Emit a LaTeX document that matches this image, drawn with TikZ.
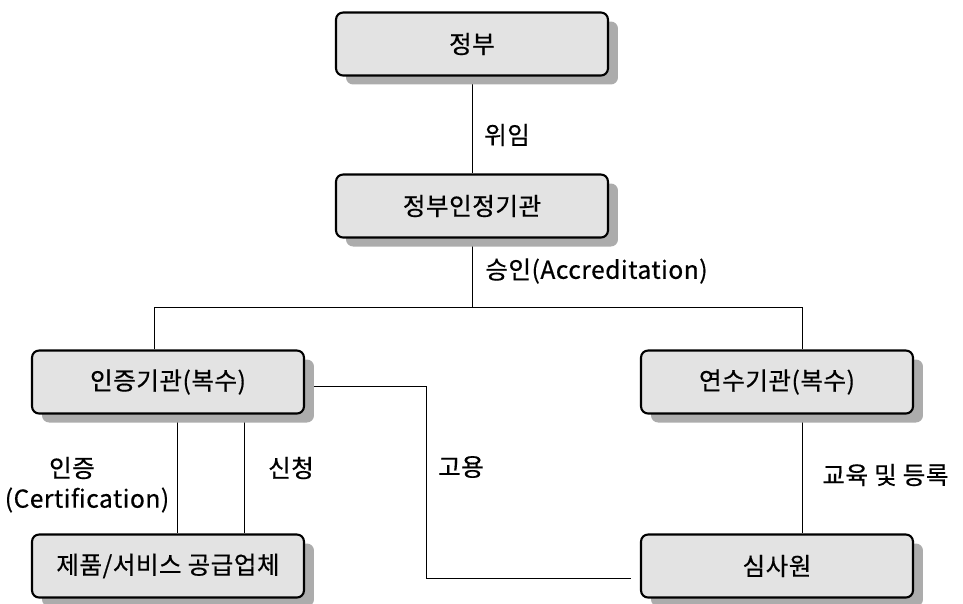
\documentclass[tikz,border=0pt]{standalone}
\usepackage{fontspec}
\setmainfont{Noto Sans CJK KR}[LetterSpace=2,FakeBold=0.5]
\usetikzlibrary{shadows,backgrounds}
\begin{document}
\begin{tikzpicture}[x=0.02cm,y=-0.02cm,
    org/.style={draw,line width=1.2pt,rounded corners=4pt,fill=gray!22,
        minimum width=5.44cm,minimum height=1.26cm,font=\fontsize{14}{16}\selectfont,
        drop shadow={shadow xshift=0.2cm,shadow yshift=-0.18cm,fill=gray!65,opacity=1}},
    lbl/.style={font=\fontsize{14}{16}\selectfont,inner sep=0pt}]
    \useasboundingbox (0,0) rectangle (963,603);
    \node[org] (gov) at (472,44) {정부};
    \node[org] (acc) at (472,206) {정부인정기관};
    \node[org] (cb) at (168,382) {인증기관(복수)};
    \node[org] (tb) at (777,382) {연수기관(복수)};
    \node[org] (sup) at (168,566) {제품/서비스 공급업체};
    \node[org] (aud) at (777,566) {심사원};
    \coordinate (split) at (472,307);
    \coordinate (hire) at (426,578);
    \node[lbl] (del) at (507,135) {위임};
    \node[lbl,anchor=west] (accl) at (485,271) {승인(Accreditation)};
    \node[lbl] (cert) at (72,468) {인증};
    \node[lbl] (certl) at (87,500) {(Certification)};
    \node[lbl] (app) at (291,468) {신청};
    \node[lbl] (emp) at (461,467) {고용};
    \node[lbl,anchor=west] (edu) at (822,475) {교육 및 등록};
    \begin{scope}[on background layer,line width=1pt]
        \draw (gov.south) -- (acc.north);
        \draw (acc.south) -- (split);
        \draw ([xshift=-0.27cm]cb.north) |- (split) -| ([xshift=0.5cm]tb.north);
        \draw ([xshift=0.19cm]cb.south) -- ([xshift=0.19cm]sup.north);
        \draw ([xshift=1.53cm]cb.south) -- ([xshift=1.53cm]sup.north);
        \draw ([xshift=0.5cm]tb.south) -- ([xshift=0.5cm]aud.north);
        \draw ([yshift=-0.09cm]cb.east) -| (hire) -- ([xshift=-0.18cm]aud.west |- hire);
    \end{scope}
\end{tikzpicture}
\end{document}
